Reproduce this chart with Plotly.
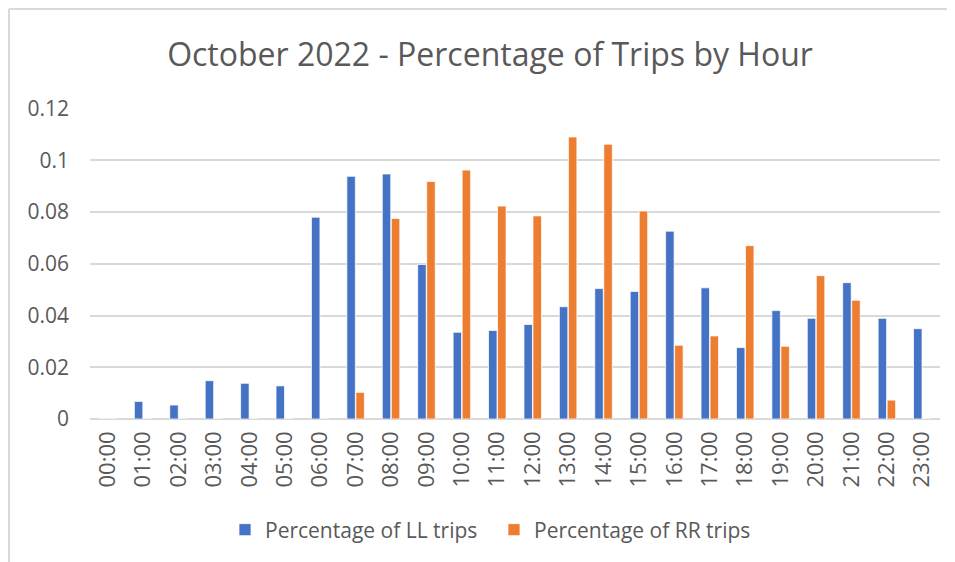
import plotly.graph_objects as go

hours = ["00:00", "01:00", "02:00", "03:00", "04:00", "05:00", "06:00", "07:00",
         "08:00", "09:00", "10:00", "11:00", "12:00", "13:00", "14:00", "15:00",
         "16:00", "17:00", "18:00", "19:00", "20:00", "21:00", "22:00", "23:00"]

ll_trips = [0.0, 0.0068, 0.0054, 0.0148, 0.0138, 0.0128, 0.078, 0.0938,
            0.0947, 0.0597, 0.0335, 0.0342, 0.0365, 0.0434, 0.0504, 0.0493,
            0.0726, 0.0507, 0.0276, 0.0419, 0.0389, 0.0527, 0.0389, 0.0349]

rr_trips = [0.0, 0.0, 0.0, 0.0, 0.0, 0.0, 0.0, 0.0103,
            0.0775, 0.0918, 0.0962, 0.0823, 0.0785, 0.109, 0.1062, 0.0804,
            0.0285, 0.0321, 0.067, 0.0281, 0.0554, 0.0459, 0.0073, 0.0]

y_ticks = [0, 0.02, 0.04, 0.06, 0.08, 0.1, 0.12]
y_tick_text = ["0", "0.02", "0.04", "0.06", "0.08", "0.1", "0.12"]

title_text = "October 2022 - Percentage of Trips by Hour"

FONT = "Open Sans"
GREY = "#595959"

fig = go.Figure()
fig.add_trace(go.Bar(x=hours, y=ll_trips, name="Percentage of LL trips",
                     marker=dict(color="#4472C4", line=dict(color="white", width=0.75))))
fig.add_trace(go.Bar(x=hours, y=rr_trips, name="Percentage of RR trips",
                     marker=dict(color="#ED7D31", line=dict(color="white", width=0.75))))

# page is rendered with an 8px body margin; compensate
OFF = 8
W, H = 955, 562
PL, PR, PT, PB = 90, 940, 108, 419  # plot area in page pixels
L = PL - OFF
T = PT - OFF
R = W - (PR - OFF)
B = H - (PB - OFF)
pw, ph = W - L - R, H - T - B

def px_x(px):
    return (px - OFF - L) / pw

def px_y(py):
    return (H - B - (py - OFF)) / ph

fig.update_layout(
    width=W, height=H,
    margin=dict(l=L, r=R, t=T, b=B),
    paper_bgcolor="white", plot_bgcolor="white",
    font=dict(family=FONT, color=GREY),
    title=dict(text=title_text, x=(490 - OFF) / W, xanchor="center",
               y=1 - (55 - OFF) / H, yanchor="middle", yref="container",
               font=dict(family=FONT, size=32, color=GREY)),
    barmode="group", bargap=0.49, bargroupgap=0.06,
    showlegend=True,
    legend=dict(orientation="h", x=px_x(494), xanchor="center",
                y=px_y(530), yanchor="middle",
                font=dict(family=FONT, size=21, color=GREY),
                itemwidth=30, traceorder="normal",
                entrywidth=224, entrywidthmode="pixels"),
    xaxis=dict(type="category", tickangle=-90, showgrid=False, showline=False,
               ticks="", ticklabelstandoff=7,
               tickfont=dict(family=FONT, size=22, color=GREY)),
    yaxis=dict(range=[0, 0.1202], tickvals=y_ticks, ticktext=y_tick_text,
               showgrid=True, gridcolor="#d9d9d9", gridwidth=1.5,
               zeroline=True, zerolinecolor="#d9d9d9", zerolinewidth=1.5,
               showline=False, ticks="", ticklabelstandoff=20,
               tickfont=dict(family=FONT, size=21, color=GREY)),
    shapes=[
        dict(type="line", xref="paper", yref="paper",
             x0=px_x(9), x1=px_x(970), y0=px_y(9), y1=px_y(9),
             line=dict(color="#d9d9d9", width=2)),
        dict(type="line", xref="paper", yref="paper",
             x0=px_x(9), x1=px_x(9), y0=px_y(9), y1=px_y(580),
             line=dict(color="#d9d9d9", width=2)),
    ],
)

fig.write_html("out.html")
